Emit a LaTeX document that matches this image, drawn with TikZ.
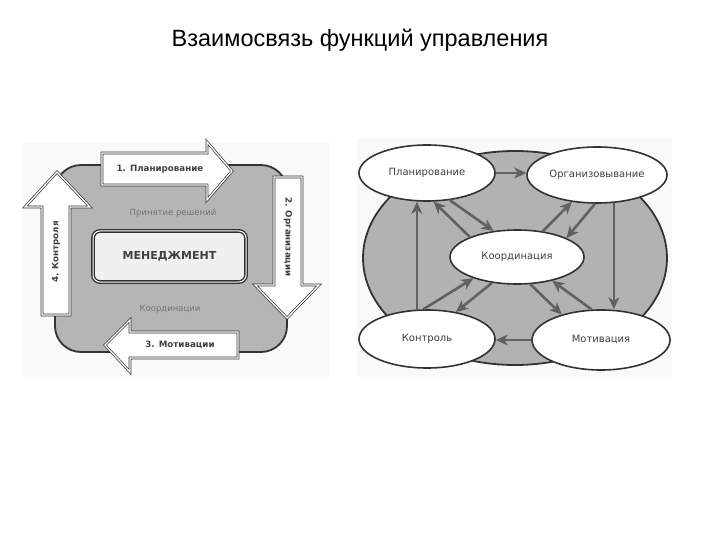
\documentclass[tikz,border=0pt]{standalone}
\usepackage{fontspec}
\setmainfont{Liberation Sans}
\newfontfamily\scanfont{DejaVu Sans}
\usetikzlibrary{calc,arrows.meta,shapes.geometric}

\tikzset{
  bigarrow/.style={fill=white, draw=black!80, line width=0.7pt, double=white,
    double distance=1.3pt, line join=miter},
  armlabel/.style={font=\scanfont\bfseries\fontsize{8.7}{10}\selectfont, text=black!75},
  softlabel/.style={font=\scanfont\fontsize{8.5}{10}\selectfont, text=black!55},
  func/.style={ellipse, draw=black!80, line width=1.6pt, fill=white,
    minimum width=136pt, minimum height=56pt, inner sep=0pt,
    font=\scanfont\fontsize{10}{12}\selectfont, text=black!75},
  flow/.style={draw=black!62, line width=2.6pt,
    -{Stealth[length=12pt, width=11pt, inset=3.5pt, fill=black!78]}}
}

\begin{document}
\begin{tikzpicture}[x=1pt, y=-1pt]
  \useasboundingbox (0,0) rectangle (720,540);

  %--- Title ---
  \node (title) at (360,40) {\fontsize{23.5}{27}\selectfont Взаимосвязь функций управления};

  %--- Scan backgrounds ---
  \fill[gray!5] (23,142) rectangle (330,377);
  \fill[gray!5] (357,138) rectangle (672,377);

  %--- Left panel: cycle around the management box ---
  \draw[rounded corners=26pt, fill=gray!58, draw=black!80, line width=1.8pt]
    (55,165) rectangle (287,352);
  \node[softlabel] (decide) at (173,213) {Принятие решений};
  \node[softlabel] (coordl) at (170,309) {Координации};
  \node[draw=black!80, line width=1.4pt, double=white, double distance=1pt,
    fill=gray!12, rounded corners=7pt, minimum width=153pt, minimum height=51pt,
    font=\scanfont\bfseries\fontsize{11}{13}\selectfont, text=black!75]
    (mgmt) at (169.5,256.5) {МЕНЕДЖМЕНТ};

  % 1: planning, pointing right
  \draw[bigarrow] (102,153) -- (207,153) -- (207,142) -- (232,171)
    -- (207,200) -- (207,185) -- (102,185) -- cycle;
  \node[armlabel] (arm1) at (160,169) {1. Планирование};
  % 2: organisation, pointing down
  \draw[bigarrow] (274,177) -- (302,177) -- (302,285) -- (319,285)
    -- (287,318) -- (255,285) -- (274,285) -- cycle;
  \node[armlabel, rotate=-90] (arm2) at (288,237) {2. Организации};
  % 3: motivation, pointing left
  \draw[bigarrow] (238,332) -- (238,358) -- (130,358) -- (130,372)
    -- (105,345) -- (130,320) -- (130,332) -- cycle;
  \node[armlabel] (arm3) at (180,345) {3. Мотивации};
  % 4: control, pointing up
  \draw[bigarrow] (42,315) -- (42,207) -- (25,207) -- (57,172)
    -- (90,207) -- (70,207) -- (70,315) -- cycle;
  \node[armlabel, rotate=90] (arm4) at (56,252) {4. Контроля};

  %--- Right panel: functions linked through coordination ---
  \draw[fill=gray!60, draw=black!80, line width=1.8pt]
    (515,258) ellipse [x radius=152, y radius=107];

  \node[func] (plan)    at (427,173) {Планирование};
  \node[func, minimum width=140pt] (org) at (597,175) {Организовывание};
  \node[func, minimum width=134pt, minimum height=54pt] (coord) at (517,257) {Координация};
  \node[func, minimum height=58pt] (control) at (427,339) {Контроль};
  \node[func, minimum width=138pt, minimum height=60pt] (motiv) at (601,340) {Мотивация};

  % outer cycle
  \draw[flow] (plan.east) -- (plan.east -| org.west);
  \draw[flow] (org.-59) -- (org.-59 |- motiv.north);
  \draw[flow] (motiv.west) -- (motiv.west -| control.east);
  \draw[flow] (control.109) -- (control.109 |- plan.south);

  % to and from the centre
  \draw[flow] (plan.-50) -- (coord.132);
  \draw[flow] (coord.157) -- (plan.-77);
  \draw[flow] (coord.45) -- (org.-133);
  \draw[flow] (org.-94) -- (coord.21);
  \draw[flow] (control.97) -- (coord.-154);
  \draw[flow] (coord.-134) -- (control.43);
  \draw[flow] (coord.-64) -- (motiv.147);
  \draw[flow] (motiv.107) -- (coord.-34);

\end{tikzpicture}
\end{document}
